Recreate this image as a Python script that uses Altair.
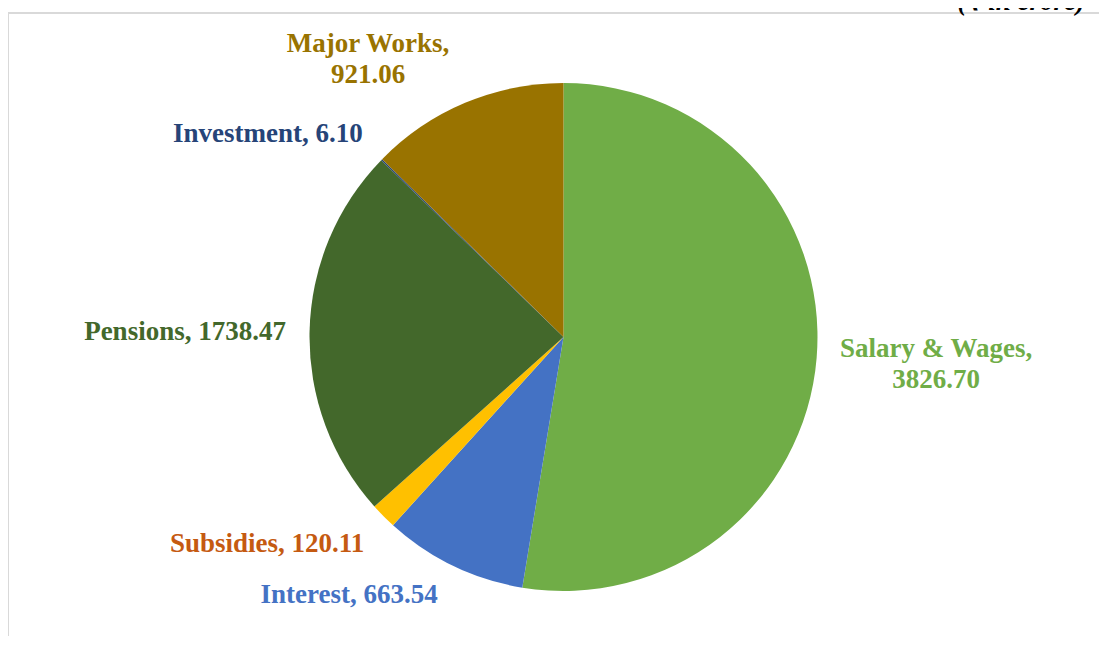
import math
import altair as alt
import pandas as pd

# ---- data ----
categories = ["Salary & Wages", "Interest", "Subsidies", "Pensions", "Investment", "Major Works"]
values = [3826.70, 663.54, 120.11, 1738.47, 6.10, 921.06]
unit_note = "(\u20b9 in crore)"

# ---- styles / layout ----
slice_colors = ["#70AD47", "#4472C4", "#FFC000", "#43682B", "#264478", "#997300"]
label_colors = ["#70AD47", "#4472C4", "#C55A11", "#43682B", "#264478", "#997300"]
two_line = [True, False, False, False, False, True]
label_shift = [-0.4, 14.0, 10.0, -0.3, -9.8, -12.4]      # degrees, manual label drag
label_radius = [373.6, 335.2, 361.3, 378.5, 358.7, 339.1]  # px from centre

W, H = 1091, 628
CX, CY, R = 555.5, 329.0, 254
FONT = "Liberation Serif"
LH = 31

total = sum(values)
mids, run = [], 0.0
for v in values:
    mids.append((run + v / 2) / total * 360.0)
    run += v

labels = []
for c, v, tl in zip(categories, values, two_line):
    labels.append(f"{c},\n{v:.2f}" if tl else f"{c}, {v:.2f}")

df = pd.DataFrame({
    "idx": list(range(len(categories))),
    "category": categories,
    "value": values,
    "label": labels,
    "two_line": two_line,
    "label_theta": [m + s for m, s in zip(mids, label_shift)],
    "label_r": label_radius,
})

base = alt.Chart(df)

pie = base.mark_arc(radius=R).encode(
    theta=alt.Theta("value:Q", stack=True),
    order=alt.Order("idx:Q"),
    color=alt.Color("category:N", scale=alt.Scale(domain=categories, range=slice_colors), legend=None),
    x=alt.value(CX),
    y=alt.value(CY),
)


def label_layer(multi):
    return base.transform_filter(
        alt.datum.two_line if multi else ~alt.datum.two_line
    ).mark_text(
        font=FONT, fontSize=27, fontWeight="bold", lineBreak="\n", lineHeight=LH,
        align="center", baseline="middle", dy=-LH / 2 if multi else 0,
    ).encode(
        theta=alt.Theta("label_theta:Q", stack=False,
                        scale=alt.Scale(domain=[0, 360], range=[0, 2 * math.pi])),
        radius=alt.Radius("label_r:Q", scale=None),
        text="label:N",
        color=alt.Color("category:N", scale=alt.Scale(domain=categories, range=label_colors), legend=None),
        x=alt.value(CX),
        y=alt.value(CY),
    )


text_single = label_layer(False)
text_multi = label_layer(True)

one = alt.Chart(pd.DataFrame({"t": [unit_note]}))
top_rule = one.mark_rule(color="#d9d9d9", strokeWidth=2).encode(
    x=alt.value(0), x2=alt.value(W + 20), y=alt.value(5))
left_rule = one.mark_rule(color="#d9d9d9", strokeWidth=2).encode(
    x=alt.value(0), y=alt.value(5), y2=alt.value(H + 20))
note = one.mark_text(
    font=FONT, fontSize=27, fontWeight="bold", fontStyle="italic",
    align="right", baseline="alphabetic", color="#000000",
).encode(text="t:N", x=alt.value(1077), y=alt.value(2))

chart = alt.layer(top_rule, left_rule, pie, text_single, text_multi, note).resolve_scale(
    theta="independent", color="independent",
).properties(
    width=W, height=H, padding=0,
    autosize=alt.AutoSizeParams(type="none"),
).configure_view(strokeWidth=0)

chart.save("out.html", embed_options={"renderer": "svg", "actions": False})
